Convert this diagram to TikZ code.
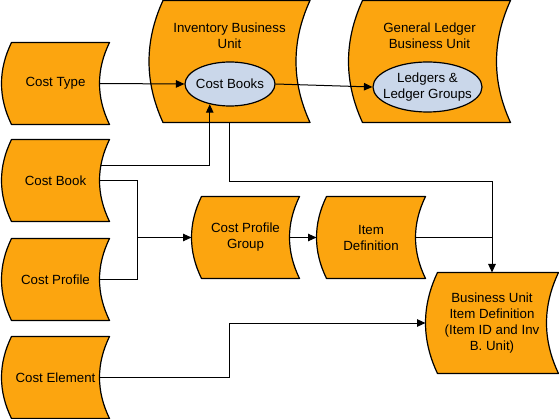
\documentclass[tikz,border=0pt]{standalone}
\usepackage{fontspec}
\setmainfont{Liberation Sans}
\usetikzlibrary{calc, positioning, shapes.geometric, backgrounds, arrows.meta}
\definecolor{storeorange}{HTML}{FCA50F}
\definecolor{bookblue}{HTML}{CAD7EA}
\tikzset{
  datastore/.style={inner sep=0pt, align=center, minimum width=107pt, minimum height=81pt},
  bigstore/.style={datastore, minimum width=160pt, minimum height=121pt},
  storeshape/.style={fill=storeorange, draw=black, line width=1.2pt, line join=round},
  book/.style={ellipse, draw, line width=1.2pt, fill=bookblue, inner xsep=-8pt, inner ysep=0pt, align=center},
}
\begin{document}
\begin{tikzpicture}[x=1pt, y=-1pt, >={Triangle[length=8.5pt,width=7.5pt]}, line width=1pt,
    every node/.style={font=\fontsize{13.3}{16}\selectfont}]
    \useasboundingbox (0,0) rectangle (559,419);
    % stores
    \node[datastore] (ctype) at (55.5,83.5) {Cost Type};
    \node[datastore] (cbook) at (55.5,180.5) {Cost Book};
    \node[datastore] (cprof) at (55.5,279.5) {Cost Profile};
    \node[datastore] (celem) at (55.5,377.5) {Cost Element};
    \node[bigstore] (invbu) at (229.5,61.5) {};
    \node[bigstore, minimum width=161pt] (glbu) at (429.5,61.5) {};
    \node[inner sep=0pt, align=center, below=22pt of invbu.north] (invtitle) {Inventory Business\\Unit};
    \node[inner sep=0pt, align=center, below=22pt of glbu.north] (gltitle) {General Ledger\\Business Unit};
    \node[datastore] (cpg) at (245.5,237.5) {Cost Profile\\Group};
    \node[datastore, minimum width=108pt] (itemdef) at (371,237.5) {Item\\Definition};
    \node[datastore, minimum width=132pt, minimum height=100pt] (buid) at (492,323)
        {Business Unit\\Item Definition\\(Item ID and Inv\\B. Unit)};
    \node[book, minimum width=90pt, minimum height=44pt] (costbooks) at (230,84) {Cost Books};
    \node[book, minimum width=109pt, minimum height=50pt] (ledgers) at (427.5,87) {Ledgers \&\\Ledger Groups};
    \begin{scope}[on background layer]
    \foreach \n/\ins in {ctype/10,cbook/10,cprof/10,celem/10,invbu/14,glbu/14,cpg/10,itemdef/10,buid/12}
        \draw[storeshape] ([xshift=\ins pt]\n.north west) -- (\n.north east)
            .. controls ($(\n.north east)!0.333!(\n.south east)+(-1.333*\ins,0)$)
            and ($(\n.north east)!0.667!(\n.south east)+(-1.333*\ins,0)$) .. (\n.south east)
            -- ([xshift=\ins pt]\n.south west)
            .. controls ($(\n.south west)!0.333!(\n.north west)+(-0.333*\ins,0)$)
            and ($(\n.south west)!0.667!(\n.north west)+(-0.333*\ins,0)$) .. cycle;
    \end{scope}
    % links
    \coordinate (jn) at (137,237.5);
    \coordinate (elbend) at (229,377.5);
    \draw[->] ([xshift=-10pt]ctype.east) -- (costbooks.west);
    \draw[->] (costbooks.east) -- (ledgers.west);
    \draw[->] ([xshift=-9pt,yshift=14.5pt]cbook.east) -| (costbooks.225);
    \draw ([xshift=-10pt]cbook.east) -| (jn);
    \draw ([xshift=-10pt]cprof.east) -| (jn);
    \draw[->] (jn) -- (cpg.west);
    \draw[->] ([xshift=-10pt]cpg.east) -- (itemdef.west);
    \draw[->] (invbu.south) -- ++(0,59.5) -| (buid.north);
    \draw ([xshift=-10pt]itemdef.east) -- (itemdef.east -| buid.north);
    \draw[->] ([xshift=-10pt]celem.east) -- (elbend) |- (buid.west);
\end{tikzpicture}
\end{document}
